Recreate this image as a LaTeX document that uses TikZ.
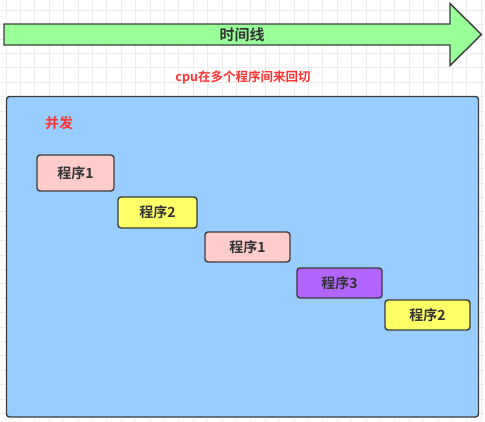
\documentclass[tikz,border=0pt]{standalone}
\usepackage{fontspec}
\newfontfamily\cjk{Noto Sans CJK SC}[BoldFont={Noto Sans CJK SC Bold}]
\definecolor{gridc}{HTML}{EDEDED}
\definecolor{edge}{HTML}{3C3C3C}
\definecolor{txt}{HTML}{333333}
\definecolor{arrowg}{HTML}{99FF99}
\definecolor{boxblue}{HTML}{99CCFF}
\definecolor{pinkc}{HTML}{FFCCCC}
\definecolor{yellowc}{HTML}{FFFF66}
\definecolor{purplec}{HTML}{B266FF}
\definecolor{redt}{HTML}{FF3333}
\tikzset{
  prog/.style={draw=edge, line width=1.4pt, rounded corners=3pt, minimum height=30pt, text=txt, font=\cjk\bfseries\fontsize{14}{16}\selectfont, inner sep=0pt},
}
\begin{document}
\begin{tikzpicture}[x=1pt,y=-1pt]
\useasboundingbox (0,0) rectangle (485,421);
\fill[white] (0,0) rectangle (485,421);
% grid
\foreach \i in {0,...,33} {\draw[gridc, line width=0.8pt] ({6+14.4*\i},0) -- ({6+14.4*\i},421);}
\foreach \j in {0,...,29} {\draw[gridc, line width=0.8pt] (0,{10.1+14.4*\j}) -- (485,{10.1+14.4*\j});}
% time arrow
\draw[draw=edge, fill=arrowg, line width=1.4pt, line join=miter]
  (4,24) -- (450,24) -- (450,3.5) -- (481.5,34.5) -- (450,65.5) -- (450,45) -- (4,45) -- cycle;
\node[text=txt, font=\cjk\bfseries\fontsize{15}{17}\selectfont] (tl) at (242,34.5) {时间线};
\node[text=redt, font=\cjk\bfseries\fontsize{12.5}{14}\selectfont] (cpu) at (243,77) {cpu在多个程序间来回切};
% main box
\draw[draw=edge, fill=boxblue, line width=1.4pt, rounded corners=3pt] (6.5,96.5) rectangle (478.5,417);
\node[text=redt, font=\cjk\bfseries\fontsize{14}{16}\selectfont, anchor=west] (bf) at (41.5,123.5) {并发};
% programs
\node[prog, fill=pinkc, minimum width=77pt, minimum height=36pt] (p1) at (75.5,173) {程序1};
\node[prog, fill=yellowc, minimum width=79pt, minimum height=31pt] (p2) at (157.5,212.5) {程序2};
\node[prog, fill=pinkc, minimum width=85pt] (p1b) at (247.5,247) {程序1};
\node[prog, fill=purplec, minimum width=85pt] (p3) at (339.5,283) {程序3};
\node[prog, fill=yellowc, minimum width=85pt] (p2b) at (427.5,315) {程序2};
\end{tikzpicture}
\end{document}
